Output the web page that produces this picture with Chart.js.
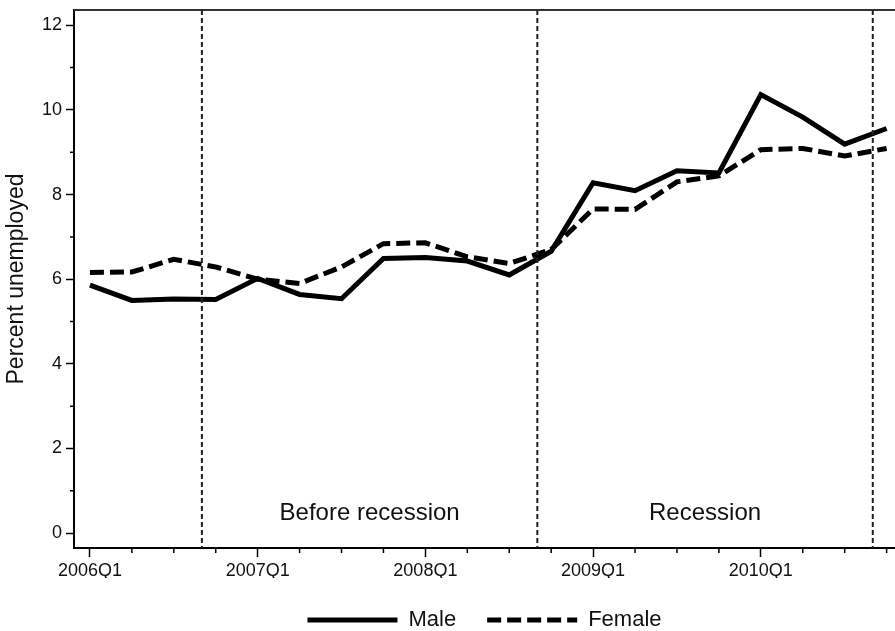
<!DOCTYPE html>
<html>
<head>
<meta charset="utf-8">
<title>Percent unemployed by sex, 2006Q1-2010Q4</title>
<script src="https://cdn.jsdelivr.net/npm/chart.js@4/dist/chart.umd.min.js"></script>
<style>
  body { margin: 0; background: #fff; }
</style>
</head>
<body>
<canvas id="myChart" width="895" height="631"></canvas>
<script>
const quarters = [
  '2006Q1', '2006Q2', '2006Q3', '2006Q4',
  '2007Q1', '2007Q2', '2007Q3', '2007Q4',
  '2008Q1', '2008Q2', '2008Q3', '2008Q4',
  '2009Q1', '2009Q2', '2009Q3', '2009Q4',
  '2010Q1', '2010Q2', '2010Q3', '2010Q4'
]
const maleRates = [5.86, 5.50, 5.53, 5.52, 6.02, 5.64, 5.54, 6.49, 6.51, 6.43, 6.10, 6.66, 8.28, 8.09, 8.56, 8.51, 10.36, 9.83, 9.19, 9.56]
const femaleRates = [6.16, 6.17, 6.47, 6.29, 6.00, 5.90, 6.29, 6.84, 6.86, 6.53, 6.37, 6.70, 7.66, 7.65, 8.30, 8.44, 9.06, 9.09, 8.91, 9.09]
const yTicks = [0, 2, 4, 6, 8, 10, 12]
// period boundaries (in quarters from 2006Q1) and the names of the spans between them
const phaseBreaks = [2.67, 10.67, 18.67]
const phaseNames = ['Before recession', 'Recession']
const phaseLabelY = 0.47

Chart.defaults.font.family = "'Liberation Sans', Arial, Helvetica, sans-serif"
Chart.defaults.color = '#111'

/**
 * Draws the frame top, the short minor ticks, the period break lines and the period names.
 */
const decorations = {
  id: 'decorations',
  afterDraw (chart) {
    const { ctx, chartArea, scales: { x, y } } = chart
    ctx.save()

    // top frame line
    ctx.strokeStyle = '#333'
    ctx.lineWidth = 2
    ctx.beginPath()
    ctx.moveTo(chartArea.left, chartArea.top)
    ctx.lineTo(chartArea.right, chartArea.top)
    ctx.stroke()

    // minor ticks
    ctx.strokeStyle = '#000'
    ctx.lineWidth = 1.5
    ctx.beginPath()
    quarters.forEach((q, i) => {
      if (i % 4 === 0) return
      const px = x.getPixelForValue(i)
      ctx.moveTo(px, chartArea.bottom)
      ctx.lineTo(px, chartArea.bottom + 5)
    })
    for (let v = 1; v < 12; v += 2) {
      const py = y.getPixelForValue(v)
      ctx.moveTo(chartArea.left - 4, py)
      ctx.lineTo(chartArea.left, py)
    }
    ctx.stroke()

    // period breaks
    ctx.strokeStyle = '#222'
    ctx.lineWidth = 2
    ctx.setLineDash([5, 3])
    ctx.beginPath()
    phaseBreaks.forEach(b => {
      const px = x.getPixelForValue(b)
      ctx.moveTo(px, chartArea.top)
      ctx.lineTo(px, chartArea.bottom)
    })
    ctx.stroke()
    ctx.setLineDash([])

    // period names
    ctx.fillStyle = '#111'
    ctx.font = "24px 'Liberation Sans', Arial, sans-serif"
    ctx.textAlign = 'center'
    ctx.textBaseline = 'middle'
    phaseNames.forEach((name, i) => {
      const mid = (phaseBreaks[i] + phaseBreaks[i + 1]) / 2
      ctx.fillText(name, x.getPixelForValue(mid), y.getPixelForValue(phaseLabelY))
    })
    ctx.restore()
  }
}

const ctx = document.getElementById('myChart').getContext('2d')
const myChart = new Chart(ctx, {
  type: 'line',
  data: {
    datasets: [{
      label: 'Male',
      data: maleRates.map((v, i) => ({ x: i, y: v })),
      borderColor: '#000',
      backgroundColor: '#000',
      borderWidth: 5,
      pointRadius: 0,
      tension: 0
    }, {
      label: 'Female',
      data: femaleRates.map((v, i) => ({ x: i, y: v })),
      borderColor: '#000',
      backgroundColor: '#000',
      borderWidth: 5,
      borderDash: [14, 6],
      pointRadius: 0,
      tension: 0
    }]
  },
  options: {
    responsive: false,
    animation: false,
    layout: { padding: { top: 10, left: 0, right: 0, bottom: 0 } },
    plugins: {
      tooltip: { enabled: false },
      legend: {
        position: 'bottom',
        fullSize: false,
        maxHeight: 53,
        labels: {
          usePointStyle: true,
          pointStyle: 'line',
          pointStyleWidth: 90,
          boxHeight: 22,
          padding: 31,
          color: '#111',
          font: { size: 22 },
          generateLabels: (chart) => {
            const items = Chart.defaults.plugins.legend.labels.generateLabels(chart)
            return items.map((item, i) => ({
              ...item,
              lineWidth: chart.data.datasets[i].borderWidth,
              lineDash: chart.data.datasets[i].borderDash || []
            }))
          }
        }
      }
    },
    scales: {
      x: {
        type: 'linear',
        min: -0.38,
        max: 19.2,
        afterBuildTicks: (scale) => {
          scale.ticks = quarters.map((q, i) => ({ value: i })).filter(t => t.value % 4 === 0)
        },
        afterFit: (scale) => { scale.height = 30 },
        ticks: {
          callback: (value) => quarters[value],
          autoSkip: false,
          maxRotation: 0,
          padding: 3,
          color: '#111',
          font: { size: 18 }
        },
        grid: { drawOnChartArea: false, tickLength: 9, tickColor: '#000', tickWidth: 1.5 },
        border: { display: true, color: '#000', width: 2 }
      },
      y: {
        min: -0.35,
        max: 12.36,
        afterBuildTicks: (scale) => {
          scale.ticks = yTicks.map(v => ({ value: v }))
        },
        afterFit: (scale) => {
          scale.width = 74
          scale.paddingTop = 0
          scale.paddingBottom = 0
        },
        ticks: {
          padding: 4,
          color: '#111',
          font: { size: 18 }
        },
        title: {
          display: true,
          text: 'Percent unemployed',
          color: '#111',
          padding: { top: 3, bottom: 0 },
          font: { size: 23 }
        },
        grid: { drawOnChartArea: false, tickLength: 8, tickColor: '#000', tickWidth: 1.5 },
        border: { display: true, color: '#000', width: 2 }
      }
    }
  },
  plugins: [decorations]
})
</script>
</body>
</html>
